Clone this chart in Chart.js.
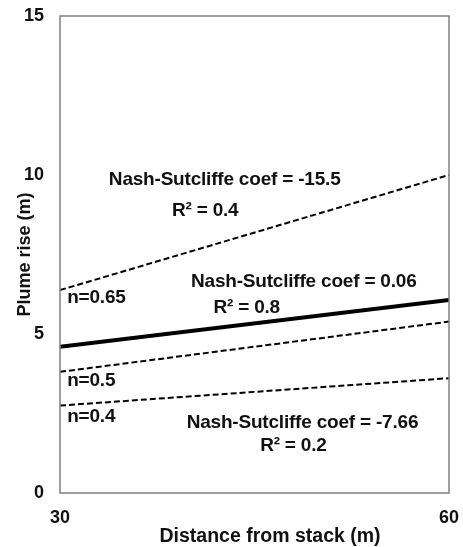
<!DOCTYPE html>
<html>
<head>
<meta charset="utf-8">
<script src="https://cdn.jsdelivr.net/npm/chart.js@4.4.0/dist/chart.umd.min.js"></script>
<style>
    html, body { margin: 0; padding: 0; background: #fff; }
    #wrap { width: 463px; height: 547px; }
</style>
</head>
<body>
<div id="wrap"><canvas id="chart"></canvas></div>
<script>
// values
const distance = [30, 60];
const plumeN065 = [6.38, 10.0];
const plumeFit = [4.6, 6.07];
const plumeN05 = [3.81, 5.39];
const plumeN04 = [2.75, 3.61];
const yTicks = [0, 5, 10, 15];
const xTicks = [30, 60];

const FONT = '"Liberation Sans", Arial, sans-serif';

// text notes placed in data coordinates
const notes = [
    { text: 'Nash-Sutcliffe coef = -15.5', x: 42.7, y: 9.86, align: 'center' },
    { text: 'R² = 0.4', x: 41.2, y: 8.86, align: 'center' },
    { text: 'n=0.65', x: 30.55, y: 6.13, align: 'left' },
    { text: 'Nash-Sutcliffe coef = 0.06', x: 48.8, y: 6.63, align: 'center' },
    { text: 'R² = 0.8', x: 44.4, y: 5.84, align: 'center' },
    { text: 'n=0.5', x: 30.55, y: 3.52, align: 'left' },
    { text: 'n=0.4', x: 30.55, y: 2.39, align: 'left' },
    { text: 'Nash-Sutcliffe coef = -7.66', x: 48.7, y: 2.22, align: 'center' },
    { text: 'R² = 0.2', x: 48.0, y: 1.48, align: 'center' }
];

function toPoints(ys) {
    return distance.map((x, i) => ({ x: x, y: ys[i] }));
}

const notesPlugin = {
    id: 'notes',
    afterDatasetsDraw(chart) {
        const { ctx, chartArea, scales } = chart;
        ctx.save();
        // frame around the plot
        ctx.strokeStyle = '#808080';
        ctx.lineWidth = 1.5;
        ctx.strokeRect(chartArea.left, chartArea.top,
            chartArea.right - chartArea.left, chartArea.bottom - chartArea.top);
        ctx.fillStyle = '#111';
        ctx.textBaseline = 'middle';
        ctx.font = 'bold 19px ' + FONT;
        ctx.letterSpacing = '-0.2px';
        notes.forEach((n) => {
            ctx.textAlign = n.align;
            ctx.fillText(n.text, scales.x.getPixelForValue(n.x), scales.y.getPixelForValue(n.y));
        });
        // axis titles
        ctx.letterSpacing = '0px';
        ctx.textAlign = 'center';
        ctx.font = 'bold 19.5px ' + FONT;
        ctx.fillText('Distance from stack (m)', scales.x.getPixelForValue(31.2) + (chartArea.right - chartArea.left) / 2, 537);
        ctx.translate(25, (chartArea.top + chartArea.bottom) / 2);
        ctx.rotate(-Math.PI / 2);
        ctx.font = 'bold 18px ' + FONT;
        ctx.fillText('Plume rise (m)', 0, 0);
        ctx.restore();
    }
};

const dashed = [6, 3];

new Chart(document.getElementById('chart'), {
    type: 'scatter',
    data: {
        datasets: [
            { label: 'n=0.65', data: toPoints(plumeN065), borderDash: dashed, borderWidth: 2 },
            { label: 'fit', data: toPoints(plumeFit), borderWidth: 4 },
            { label: 'n=0.5', data: toPoints(plumeN05), borderDash: dashed, borderWidth: 2 },
            { label: 'n=0.4', data: toPoints(plumeN04), borderDash: dashed, borderWidth: 2 }
        ].map((d) => Object.assign(d, {
            showLine: true,
            borderColor: '#000',
            pointRadius: 0,
            fill: false
        }))
    },
    options: {
        responsive: true,
        maintainAspectRatio: false,
        animation: false,
        layout: { padding: { top: 16, right: 14, left: 0, bottom: 0 } },
        plugins: { legend: { display: false }, tooltip: { enabled: false } },
        scales: {
            x: {
                type: 'linear',
                min: 30,
                max: 60,
                afterBuildTicks: (scale) => { scale.ticks = xTicks.map((v) => ({ value: v })); },
                afterFit: (scale) => {
                    scale.height = 54;
                    scale.paddingLeft = 0;
                    scale.paddingRight = 0;
                },
                grid: { display: false },
                border: { display: false },
                ticks: { padding: 6, color: '#111', font: { family: FONT, size: 18, weight: 'bold' } }
            },
            y: {
                min: 0,
                max: 15,
                afterBuildTicks: (scale) => { scale.ticks = yTicks.map((v) => ({ value: v })); },
                afterFit: (scale) => {
                    scale.width = 60;
                    scale.paddingTop = 0;
                    scale.paddingBottom = 0;
                },
                grid: { display: false },
                border: { display: false },
                ticks: { padding: 8, color: '#111', font: { family: FONT, size: 18, weight: 'bold' } }
            }
        }
    },
    plugins: [notesPlugin]
});
</script>
</body>
</html>
